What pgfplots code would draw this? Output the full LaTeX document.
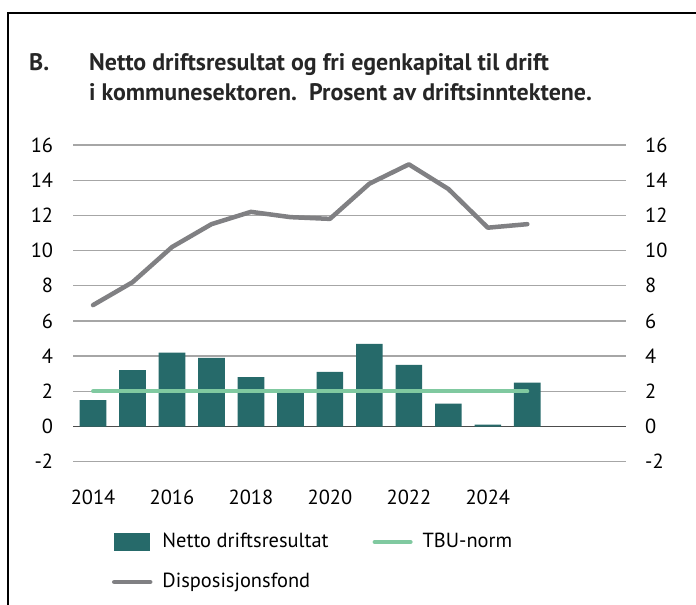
\documentclass[border=0pt]{standalone}
\usepackage{fontspec}
\setmainfont{PT Sans}
\usepackage{pgfplots}
\pgfplotsset{compat=1.18}
\definecolor{barc}{HTML}{266A6A}
\definecolor{tbu}{HTML}{80C9A0}
\definecolor{disp}{HTML}{808083}
\definecolor{gridc}{HTML}{A6A6A6}
\begin{document}
\begin{tikzpicture}[x=1bp,y=1bp]
\useasboundingbox (0,0) rectangle (696,605);
\draw[line width=2.5bp] (8,-5) -- (8,592) -- (710,592);
\node[anchor=base west, inner sep=0pt, text=black!85, font=\bfseries\fontsize{24}{28}\selectfont] at (29,534.5) {B.};
\node[anchor=base west, inner sep=0pt, text=black!85, font=\bfseries\fontsize{24}{28}\selectfont] at (89,534.5) {Netto driftsresultat og fri egenkapital til drift};
\node[anchor=base west, inner sep=0pt, text=black!85, font=\bfseries\fontsize{24}{28}\selectfont] at (89,504) {i kommunesektoren.\ \ Prosent av driftsinntektene.};
\begin{axis}[
  at={(73.3bp,143.3bp)}, anchor=south west, scale only axis,
  width=552.7bp, height=316.7bp,
  xmin=2013.5, xmax=2027.5, ymin=-2, ymax=16,
  ytick={-2,0,...,16}, xtick={2014,2016,...,2024},
  /pgf/number format/1000 sep={},
  /pgf/number format/assume math mode=true,
  axis line style={draw=none}, major tick length=0pt,
  ymajorgrids, grid style={gridc, line width=1.3bp},
  extra y ticks={0}, extra y tick labels={}, extra y tick style={grid style={black!70, line width=1.3bp}},
  tick label style={font=\fontsize{20.5}{24}\selectfont, inner sep=0pt},
  yticklabel style={xshift=-20bp},
  xticklabel style={yshift=-28bp},
  legend columns=2,
  legend cell align=left,
  legend style={draw=none, fill=none, at={(0.070,-0.222)}, anchor=north west,
    inner sep=0pt, outer sep=0pt, font=\fontsize{20.5}{24}\selectfont,
    nodes={inner sep=0pt, text height=15bp, text depth=5bp},
    row sep=20bp,
    /tikz/every odd column/.append style={column sep=10bp},
    /tikz/every even column/.append style={column sep=44bp}},
]
\addplot[ybar, bar width=0.675, bar shift=0pt, fill=barc, draw=none,
  legend image code/.code={\fill[barc] (0bp,-9bp) rectangle (36bp,9bp);}]
  coordinates {(2014,1.5) (2015,3.2) (2016,4.2) (2017,3.9) (2018,2.8) (2019,1.9)
   (2020,3.1) (2021,4.7) (2022,3.5) (2023,1.3) (2024,0.1) (2025,2.5)};
\addlegendentry{Netto driftsresultat}
\addplot[tbu, line width=4bp, line cap=round,
  legend image code/.code={\draw[tbu, line width=4bp, line cap=round] (0bp,0bp) -- (36bp,0bp);}]
  coordinates {(2014,2) (2025,2)};
\addlegendentry{TBU-norm}
\addplot[disp, line width=4.5bp, line cap=round, line join=round,
  legend image code/.code={\draw[disp, line width=4.5bp, line cap=round] (0bp,0bp) -- (36bp,0bp);}]
  coordinates {(2014,6.9) (2015,8.2) (2016,10.2) (2017,11.5) (2018,12.2) (2019,11.9)
   (2020,11.8) (2021,13.8) (2022,14.9) (2023,13.5) (2024,11.3) (2025,11.5)};
\addlegendentry{Disposisjonsfond}
\end{axis}
\begin{axis}[
  at={(73.3bp,143.3bp)}, anchor=south west, scale only axis,
  width=552.7bp, height=316.7bp,
  xmin=2013.5, xmax=2027.5, ymin=-2, ymax=16,
  ytick={-2,0,...,16}, xtick=\empty,
  yticklabel pos=right,
  /pgf/number format/assume math mode=true,
  axis line style={draw=none}, major tick length=0pt,
  tick label style={font=\fontsize{20.5}{24}\selectfont, inner sep=0pt},
  yticklabel style={xshift=19bp},
]
\end{axis}
\end{tikzpicture}
\end{document}
